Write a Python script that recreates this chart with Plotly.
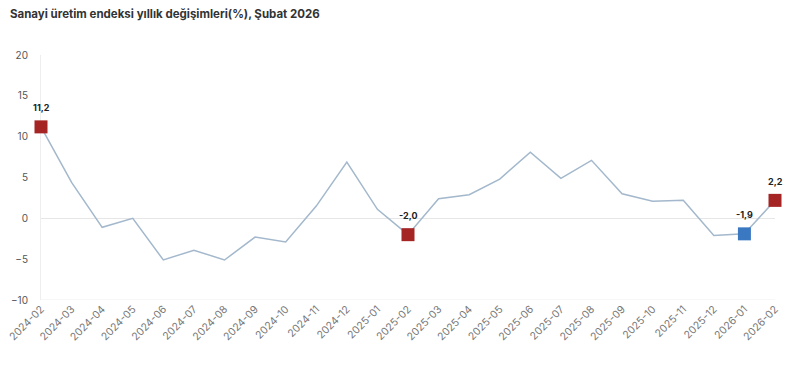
import plotly.graph_objects as go

months = ["2024-02","2024-03","2024-04","2024-05","2024-06","2024-07","2024-08","2024-09",
          "2024-10","2024-11","2024-12","2025-01","2025-02","2025-03","2025-04","2025-05",
          "2025-06","2025-07","2025-08","2025-09","2025-10","2025-11","2025-12","2026-01","2026-02"]
values = [11.2, 4.4, -1.1, 0.0, -5.1, -3.9, -5.1, -2.3, -2.9, 1.5, 6.9, 1.1, -2.0,
          2.4, 2.9, 4.8, 8.1, 4.9, 7.1, 3.0, 2.1, 2.2, -2.1, -1.9, 2.2]
red_months = ["2024-02", "2025-02", "2026-02"]
blue_months = ["2026-01"]

idx = {m: i for i, m in enumerate(months)}
red_vals = [values[idx[m]] for m in red_months]
blue_vals = [values[idx[m]] for m in blue_months]

def fmt(v):
    return f"{v:.1f}".replace(".", ",")

fig = go.Figure()
fig.add_trace(go.Scatter(x=months, y=values, mode="lines",
                         line=dict(color="#a3b8cc", width=1.5), hoverinfo="skip"))
fig.add_trace(go.Scatter(x=red_months, y=red_vals, mode="markers",
                         marker=dict(symbol="square", size=13, color="#a52424"), cliponaxis=False))
fig.add_trace(go.Scatter(x=blue_months, y=blue_vals, mode="markers",
                         marker=dict(symbol="square", size=13, color="#3a78c2"), cliponaxis=False))

for m, v in list(zip(red_months, red_vals)) + list(zip(blue_months, blue_vals)):
    fig.add_annotation(x=m, y=v, text=f"<b>{fmt(v)}</b>", showarrow=False,
                       yshift=19, font=dict(family="Inter", size=9, color="#222"))

fig.update_layout(
    width=800, height=380,
    margin=dict(l=41, r=25, t=55, b=80),
    paper_bgcolor="white", plot_bgcolor="white",
    showlegend=False,
    font=dict(family="Inter", color="#555"),
    title=dict(text="<b>Sanayi üretim endeksi yıllık değişimleri(%), Şubat 2026</b>",
               x=0.0125, xanchor="left", y=0.963, yanchor="middle",
               font=dict(family="Inter", size=11.5, color="#333")),
    xaxis=dict(type="category", range=[0, 24], tickangle=-45, automargin=False,
               tickfont=dict(size=10.5, color="#777"), showgrid=False,
               showline=False, zeroline=False, ticks="", layer="below traces"),
    yaxis=dict(range=[-10, 20], dtick=5, showgrid=False, zeroline=True, automargin=False,
               zerolinecolor="#e6e6e6", zerolinewidth=1, layer="below traces",
               showline=True, linecolor="#eeeeee", linewidth=1,
               tickfont=dict(size=10, color="#555"), ticks="", ticklabelstandoff=10),
)
fig.add_shape(type="line", xref="paper", yref="y", x0=0, x1=1, y0=-10, y1=-10,
              line=dict(color="#eeeeee", width=1), layer="below")

fig.write_html("out.html", config={"displayModeBar": False},
               post_script="document.body.style.margin='0';")
